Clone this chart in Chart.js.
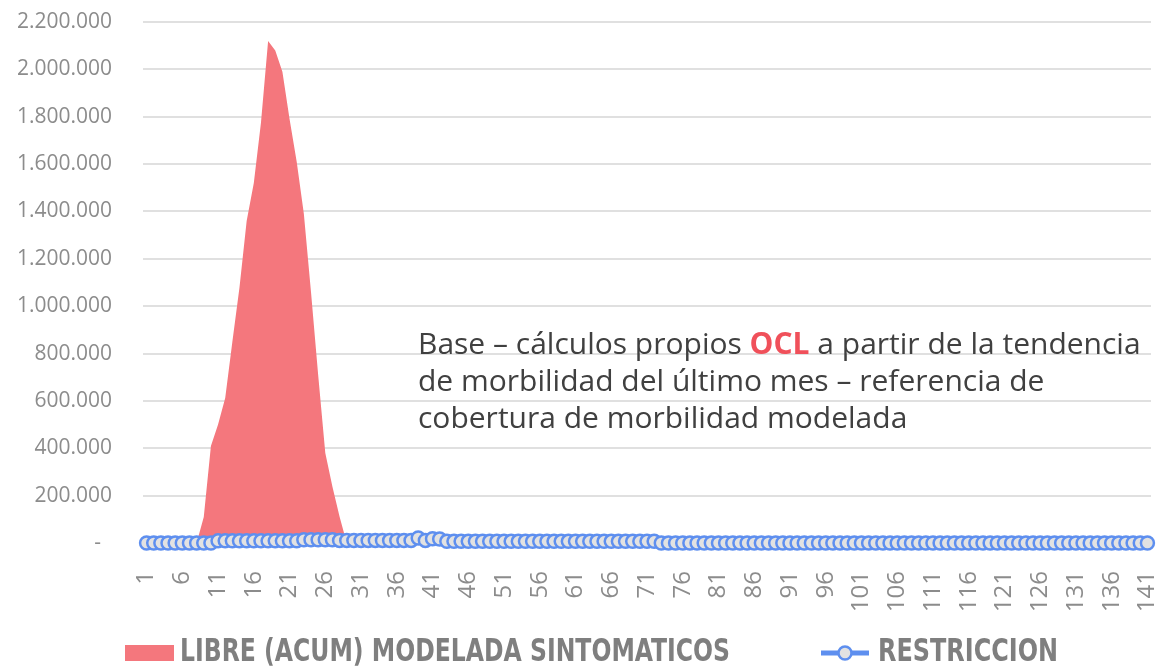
<!DOCTYPE html>
<html>
<head>
<meta charset="utf-8">
<script src="https://cdn.jsdelivr.net/npm/chart.js@4.4.1/dist/chart.umd.min.js"></script>
<style>
  body { margin: 0; background: #ffffff; }
  #wrap { position: relative; width: 1160px; height: 668px; }
  #note {
    position: absolute;
    left: 418px;
    top: 324px;
    font-family: "Open Sans", sans-serif;
    font-size: 30px;
    line-height: 37px;
    color: #404040;
    white-space: nowrap;
  }
  #note b { color: #F0505A; }
</style>
</head>
<body>
<div id="wrap">
  <canvas id="chart" width="1160" height="668"></canvas>
  <div id="note">Base – cálculos propios <b>OCL</b> a partir de la tendencia<br>de morbilidad del último mes – referencia de<br>cobertura de morbilidad modelada</div>
</div>
<script>
const dias = [
  1, 2, 3, 4, 5, 6, 7, 8, 9, 10,
  11, 12, 13, 14, 15, 16, 17, 18, 19, 20,
  21, 22, 23, 24, 25, 26, 27, 28, 29, 30,
  31, 32, 33, 34, 35, 36, 37, 38, 39, 40,
  41, 42, 43, 44, 45, 46, 47, 48, 49, 50,
  51, 52, 53, 54, 55, 56, 57, 58, 59, 60,
  61, 62, 63, 64, 65, 66, 67, 68, 69, 70,
  71, 72, 73, 74, 75, 76, 77, 78, 79, 80,
  81, 82, 83, 84, 85, 86, 87, 88, 89, 90,
  91, 92, 93, 94, 95, 96, 97, 98, 99, 100,
  101, 102, 103, 104, 105, 106, 107, 108, 109, 110,
  111, 112, 113, 114, 115, 116, 117, 118, 119, 120,
  121, 122, 123, 124, 125, 126, 127, 128, 129, 130,
  131, 132, 133, 134, 135, 136, 137, 138, 139, 140,
  141
];

// LIBRE (ACUM) MODELADA SINTOMATICOS
const libre = [
  0, 0, 0, 0, 0, 0, 0, 0, 110000, 410000,
  500000, 612000, 850000, 1080000, 1360000, 1520000, 1775000, 2120000, 2080000, 1990000,
  1790000, 1610000, 1390000, 1060000, 710000, 380000, 238000, 111000, 0, 0,
  0, 0, 0, 0, 0, 0, 0, 0, 0, 0,
  0, 0, 0, 0, 0, 0, 0, 0, 0, 0,
  0, 0, 0, 0, 0, 0, 0, 0, 0, 0,
  0, 0, 0, 0, 0, 0, 0, 0, 0, 0,
  0, 0, 0, 0, 0, 0, 0, 0, 0, 0,
  0, 0, 0, 0, 0, 0, 0, 0, 0, 0,
  0, 0, 0, 0, 0, 0, 0, 0, 0, 0,
  0, 0, 0, 0, 0, 0, 0, 0, 0, 0,
  0, 0, 0, 0, 0, 0, 0, 0, 0, 0,
  0, 0, 0, 0, 0, 0, 0, 0, 0, 0,
  0, 0, 0, 0, 0, 0, 0, 0, 0, 0,
  0
];

// RESTRICCION
const restriccion = [
  0, 0, 0, 0, 0, 0, 0, 0, 0, 0,
  9000, 9000, 9000, 9000, 9000, 9000, 9000, 9000, 9000, 9000,
  9000, 9000, 14000, 14000, 14000, 14000, 14000, 11000, 11000, 11000,
  11000, 11000, 11000, 11000, 11000, 11000, 11000, 11000, 21000, 11000,
  18000, 17000, 7000, 7000, 7000, 7000, 7000, 7000, 7000, 7000,
  7000, 7000, 7000, 7000, 7000, 7000, 7000, 7000, 7000, 7000,
  7000, 7000, 7000, 7000, 7000, 7000, 7000, 7000, 7000, 7000,
  7000, 7000, 0, 0, 0, 0, 0, 0, 0, 0,
  0, 0, 0, 0, 0, 0, 0, 0, 0, 0,
  0, 0, 0, 0, 0, 0, 0, 0, 0, 0,
  0, 0, 0, 0, 0, 0, 0, 0, 0, 0,
  0, 0, 0, 0, 0, 0, 0, 0, 0, 0,
  0, 0, 0, 0, 0, 0, 0, 0, 0, 0,
  0, 0, 0, 0, 0, 0, 0, 0, 0, 0,
  0
];

const nombres = ["LIBRE (ACUM) MODELADA SINTOMATICOS", "RESTRICCION"];

const rojo = "#F4777D";
const azul = "#5E8FEF";
const gris = "#8C8C8C";

function miles(v) {
  if (v === 0) return "-  ";
  return String(v).replace(/\B(?=(\d{3})+(?!\d))/g, ".");
}

// texto angosto: se comprime a lo ancho que ocupa en el original
function textoAngosto(ctx, txt, x, y, ancho) {
  const w = ctx.measureText(txt).width;
  ctx.save();
  ctx.translate(x, y);
  ctx.scale(ancho / w, 1);
  ctx.fillText(txt, 0, 0);
  ctx.restore();
}

// leyenda abajo, como en el original
const leyenda = {
  id: "leyenda",
  afterDraw(chart) {
    const ctx = chart.ctx;
    ctx.save();
    ctx.font = "bold 32px 'DejaVu Sans Condensed', 'DejaVu Sans', sans-serif";
    ctx.textBaseline = "middle";

    ctx.fillStyle = rojo;
    ctx.fillRect(125, 645, 49, 16);
    ctx.fillStyle = "#7F7F7F";
    textoAngosto(ctx, nombres[0], 180, 653, 550);

    ctx.strokeStyle = azul;
    ctx.lineWidth = 5;
    ctx.beginPath();
    ctx.moveTo(821, 653);
    ctx.lineTo(869, 653);
    ctx.stroke();
    ctx.beginPath();
    ctx.arc(845, 653, 6.5, 0, Math.PI * 2);
    ctx.fillStyle = "#E2E2E2";
    ctx.fill();
    ctx.lineWidth = 2.5;
    ctx.stroke();
    ctx.fillStyle = "#7F7F7F";
    textoAngosto(ctx, nombres[1], 878, 653, 180);
    ctx.restore();
  }
};

new Chart(document.getElementById("chart"), {
  type: "line",
  data: {
    labels: dias,
    datasets: [
      {
        label: nombres[0],
        data: libre,
        fill: "origin",
        backgroundColor: rojo,
        borderWidth: 0,
        pointRadius: 0,
        tension: 0,
        order: 2
      },
      {
        label: nombres[1],
        data: restriccion,
        fill: false,
        clip: false,
        borderColor: azul,
        borderWidth: 3,
        pointRadius: 6.5,
        pointBorderWidth: 2.5,
        pointBackgroundColor: "#E2E2E2",
        pointBorderColor: azul,
        tension: 0,
        order: 1
      }
    ]
  },
  options: {
    responsive: false,
    animation: false,
    layout: { padding: { top: 22, right: 6, left: 0, bottom: 0 } },
    plugins: {
      legend: { display: false },
      tooltip: { enabled: false }
    },
    scales: {
      x: {
        offset: true,
        grid: { display: false },
        border: { display: false },
        ticks: {
          autoSkip: false,
          minRotation: 90,
          maxRotation: 90,
          padding: 20,
          color: gris,
          font: { family: "Open Sans", size: 24 },
          callback: (v, i) => (i % 5 === 0 ? String(dias[i]) : "")
        },
        afterFit: (s) => {
          s.height = 125;
          s.paddingLeft = 0;
          s.paddingRight = 0;
        }
      },
      y: {
        min: 0,
        max: 2200000,
        grid: { color: "#E0E0E0", lineWidth: 2, drawTicks: false },
        border: { display: false },
        ticks: {
          stepSize: 200000,
          padding: 31,
          color: gris,
          font: { family: "Open Sans", size: 21 },
          callback: (v) => miles(v)
        },
        afterFit: (s) => {
          s.width = 143;
          s.paddingTop = 0;
          s.paddingBottom = 0;
        }
      }
    }
  },
  plugins: [leyenda]
});
</script>
</body>
</html>
